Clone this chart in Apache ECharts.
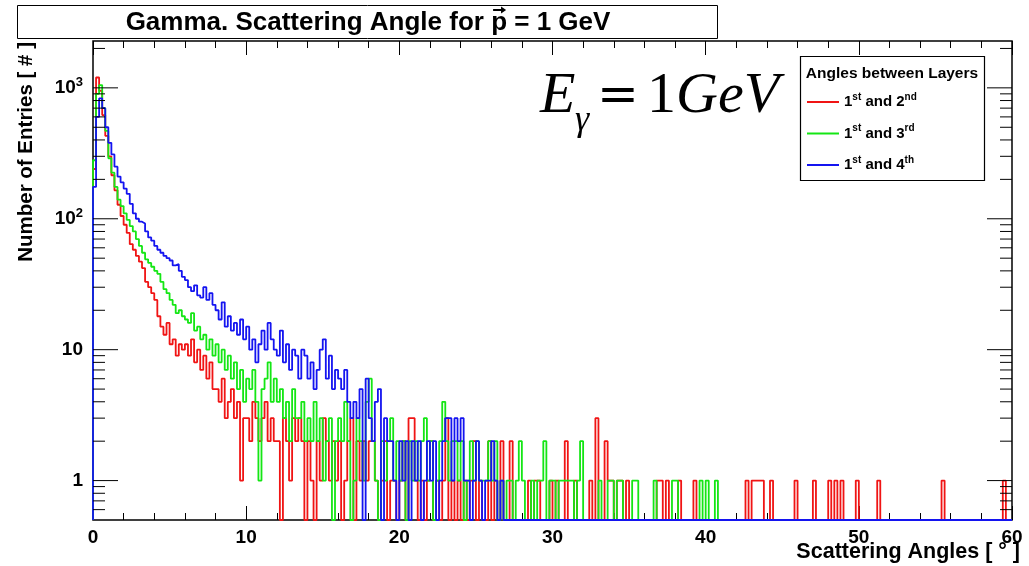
<!DOCTYPE html>
<html>
<head>
<meta charset="utf-8">
<script src="https://cdn.jsdelivr.net/npm/echarts@6/dist/echarts.min.js"></script>
<style>
  html, body { margin: 0; padding: 0; background: #fff; }
  #chart { width: 1029px; height: 566px; }
</style>
</head>
<body>
<div id="chart"></div>
<script>
// Histogram binning: 300 bins of 0.2 degrees covering 0..60 degrees
const binWidth = 0.2;
const angleMin = 0;
const angleMax = 60;

const seriesNames = ['1st and 2nd', '1st and 3rd', '1st and 4th'];
const seriesColors = ['#f01414', '#14e614', '#1414f0'];

// Entries per bin, angle between 1st and 2nd layer
const countsLayer12 = [
  240, 1200, 950, 620, 430, 300, 215, 165, 128, 105,
  90, 78, 64, 58, 52, 47, 42, 33, 30, 27,
  24, 18, 15, 13, 16, 11, 12, 9, 11, 10,
  11, 9, 12, 8, 10, 7, 9, 6, 8, 5,
  5, 4, 6, 3, 4, 5, 3, 4, 1, 3,
  3, 2, 4, 3, 2, 3, 4, 2, 3, 2,
  2, 0, 3, 2, 1, 3, 2, 3, 2, 0,
  2, 1, 0, 2, 1, 3, 2, 1, 2, 1,
  2, 0, 1, 2, 3, 0, 2, 1, 2, 1,
  2, 2, 1, 0, 1, 2, 0, 1, 1, 0,
  1, 2, 0, 3, 3, 1, 0, 1, 0, 1,
  2, 0, 1, 0, 1, 3, 0, 1, 0, 1,
  0, 1, 0, 1, 2, 0, 1, 0, 0, 2,
  0, 1, 0, 2, 0, 0, 2, 0, 0, 0,
  0, 0, 1, 0, 1, 1, 0, 0, 0, 1,
  0, 1, 0, 0, 2, 0, 0, 1, 0, 0,
  0, 0, 1, 0, 3, 0, 0, 2, 1, 1,
  0, 1, 1, 0, 1, 0, 0, 0, 0, 0,
  0, 0, 0, 0, 1, 1, 0, 1, 0, 0,
  0, 1, 0, 0, 0, 0, 1, 0, 0, 0,
  0, 0, 0, 0, 0, 0, 0, 0, 0, 0,
  0, 0, 0, 1, 0, 1, 1, 1, 1, 0,
  0, 1, 0, 0, 0, 0, 0, 0, 0, 1,
  0, 0, 0, 0, 0, 1, 0, 0, 0, 0,
  1, 0, 1, 0, 1, 0, 0, 0, 0, 1,
  0, 0, 0, 0, 0, 0, 1, 0, 0, 0,
  0, 0, 0, 0, 0, 0, 0, 0, 0, 0,
  0, 0, 0, 0, 0, 0, 0, 1, 0, 0,
  0, 0, 0, 0, 0, 0, 0, 0, 0, 0,
  0, 0, 0, 0, 0, 0, 0, 1, 0, 0
];

// Entries per bin, angle between 1st and 3rd layer
const countsLayer13 = [
  280, 900, 1050, 700, 470, 290, 225, 175, 140, 125,
  110, 98, 88, 80, 70, 62, 55, 49, 46, 43,
  40, 38, 33, 29, 27, 24, 22, 19, 20, 18,
  17, 16, 19, 14, 15, 12, 13, 10, 12, 9,
  11, 8, 10, 7, 9, 6, 8, 5, 7, 4,
  6, 5, 7, 4, 1, 5, 6, 8, 4, 6,
  4, 5, 3, 4, 2, 5, 3, 3, 4, 2,
  3, 2, 4, 2, 3, 1, 2, 3, 0, 2,
  3, 2, 4, 2, 0, 1, 3, 2, 1, 4,
  6, 2, 1, 0, 2, 1, 2, 3, 1, 2,
  1, 2, 0, 2, 1, 2, 1, 2, 3, 1,
  2, 0, 1, 2, 4, 2, 1, 2, 2, 1,
  2, 0, 1, 2, 1, 2, 1, 1, 1, 2,
  1, 2, 0, 1, 0, 1, 1, 0, 1, 2,
  1, 0, 0, 1, 0, 1, 1, 2, 0, 1,
  1, 0, 1, 1, 1, 1, 1, 0, 1, 2,
  0, 0, 0, 0, 0, 1, 0, 0, 1, 1,
  0, 1, 1, 0, 0, 0, 1, 1, 0, 0,
  0, 0, 0, 1, 0, 0, 0, 0, 0, 1,
  1, 0, 0, 0, 0, 0, 0, 0, 1, 0,
  1, 0, 0, 1, 0, 0, 0, 0, 0, 0,
  0, 0, 0, 0, 0, 0, 0, 0, 0, 0,
  0, 0, 0, 0, 0, 0, 0, 0, 0, 0,
  0, 0, 0, 0, 0, 0, 0, 0, 0, 0,
  0, 0, 0, 0, 0, 0, 0, 0, 0, 0,
  0, 0, 0, 0, 0, 0, 0, 0, 0, 0,
  0, 0, 0, 0, 0, 0, 0, 0, 0, 0,
  0, 0, 0, 0, 0, 0, 0, 0, 0, 0,
  0, 0, 0, 0, 0, 0, 0, 0, 0, 0,
  0, 0, 0, 0, 0, 0, 0, 0, 0, 0
];

// Entries per bin, angle between 1st and 4th layer
const countsLayer14 = [
  175, 600, 830, 700, 500, 380, 310, 250, 210, 190,
  170, 155, 130, 110, 100, 95, 92, 80, 72, 68,
  62, 58, 55, 52, 50, 48, 44, 45, 40, 36,
  34, 30, 28, 31, 26, 25, 30, 24, 27, 22,
  20, 17, 23, 15, 18, 14, 16, 13, 17, 12,
  15, 10, 12, 8, 11, 14, 10, 16, 12, 10,
  9, 14, 8, 11, 7, 10, 9, 6, 10, 9,
  6, 8, 5, 7, 10, 12, 6, 9, 5, 7,
  6, 5, 7, 4, 3, 4, 3, 5, 0, 6,
  3, 2, 4, 5, 0, 3, 2, 2, 1, 0,
  2, 1, 2, 0, 2, 1, 2, 0, 1, 2,
  1, 2, 0, 1, 2, 3, 3, 1, 3, 2,
  3, 1, 1, 0, 1, 2, 1, 0, 1, 1,
  2, 1, 0, 1, 0, 0, 0, 0, 0, 0,
  0, 0, 0, 0, 0, 0, 0, 0, 0, 0,
  0, 0, 0, 0, 0, 0, 0, 0, 0, 0,
  0, 0, 0, 0, 0, 0, 0, 0, 0, 0,
  0, 0, 0, 0, 0, 0, 0, 0, 0, 0,
  0, 0, 0, 0, 0, 0, 0, 0, 0, 0,
  0, 0, 0, 0, 0, 0, 0, 0, 0, 0,
  0, 0, 0, 0, 0, 0, 0, 0, 0, 0,
  0, 0, 0, 0, 0, 0, 0, 0, 0, 0,
  0, 0, 0, 0, 0, 0, 0, 0, 0, 0,
  0, 0, 0, 0, 0, 0, 0, 0, 0, 0,
  0, 0, 0, 0, 0, 0, 0, 0, 0, 0,
  0, 0, 0, 0, 0, 0, 0, 0, 0, 0,
  0, 0, 0, 0, 0, 0, 0, 0, 0, 0,
  0, 0, 0, 0, 0, 0, 0, 0, 0, 0,
  0, 0, 0, 0, 0, 0, 0, 0, 0, 0,
  0, 0, 0, 0, 0, 0, 0, 0, 0, 0
];

// Vertical range of the log axis and its labelled decades
const yMin = 0.5;
const yMax = 2280;
const yDecades = [1, 10, 100, 1000];
// Small ticks inside each decade (2..9 x 10^k)
const yMinorTicks = [0.6, 0.7, 0.8, 0.9,
  2, 3, 4, 5, 6, 7, 8, 9,
  20, 30, 40, 50, 60, 70, 80, 90,
  200, 300, 400, 500, 600, 700, 800, 900, 2000];

const titleText = 'Gamma. Scattering Angle for p = 1 GeV';
const xTitle = 'Scattering Angles [ \u00b0 ]';
const yTitle = 'Number of Entries [ # ]';
const legendTitle = 'Angles between Layers';
// legend entries with ordinal suffixes set as superscripts
const legendRich = {
  '1st and 2nd': '{n|1}{s|st}{n| and 2}{s|nd}',
  '1st and 3rd': '{n|1}{s|st}{n| and 3}{s|rd}',
  '1st and 4th': '{n|1}{s|st}{n| and 4}{s|th}'
};

const SANS = "'Liberation Sans', Arial, Helvetica, sans-serif";
const SERIF = "'Liberation Serif', 'Times New Roman', serif";

// Step outline of a histogram; empty bins sit on the bottom of the frame
function histogramOutline(counts) {
  const pts = [[angleMin, yMin]];
  counts.forEach((c, i) => {
    pts.push([+(angleMin + i * binWidth).toFixed(4), c > 0 ? c : yMin]);
  });
  const last = counts[counts.length - 1];
  const xEnd = +(angleMin + counts.length * binWidth).toFixed(4);
  pts.push([xEnd, last > 0 ? last : yMin]);
  pts.push([xEnd, yMin]);
  return pts;
}

const allCounts = [countsLayer12, countsLayer13, countsLayer14];

const chart = echarts.init(document.getElementById('chart'), null, { renderer: 'canvas' });

const grid = { left: 93, top: 41, right: 17, bottom: 46 };

// place the vector arrow over the "p" of the title
const measureCtx = document.createElement('canvas').getContext('2d');
measureCtx.font = 'bold 26px ' + SANS;
const titleCx = 368;
const titleW = measureCtx.measureText(titleText).width;
const pIndex = titleText.indexOf(' p ') + 1;
const pLeft = titleCx - titleW / 2 + measureCtx.measureText(titleText.slice(0, pIndex)).width;
const pW = measureCtx.measureText('p').width;
const arrowCx = pLeft + pW / 2;

const labelFont = { color: '#000', fontFamily: SANS, fontWeight: 'bold', fontSize: 19 };

// y ticks on both frame edges: long at decades, short inside decades
const yTickMarks = yDecades.map(v => [angleMin, v, 25]).concat(yMinorTicks.map(v => [angleMin, v, 12]));

const option = {
  animation: false,
  backgroundColor: '#fff',
  grid: Object.assign({ show: true, borderColor: '#000', borderWidth: 1.5, backgroundColor: 'transparent' }, grid),
  xAxis: [{
    type: 'value', min: angleMin, max: angleMax, interval: 10, position: 'bottom',
    axisLine: { show: false },
    axisTick: { show: true, inside: true, length: 14, lineStyle: { color: '#000', width: 1 } },
    minorTick: { show: true, splitNumber: 5, length: 7, lineStyle: { color: '#000', width: 1 } },
    splitLine: { show: false }, minorSplitLine: { show: false },
    axisLabel: Object.assign({ margin: 8 }, labelFont)
  }, {
    type: 'value', min: angleMin, max: angleMax, interval: 10, position: 'top',
    axisLine: { show: false },
    axisTick: { show: true, inside: true, length: 14, lineStyle: { color: '#000', width: 1 } },
    minorTick: { show: true, splitNumber: 5, length: 7, lineStyle: { color: '#000', width: 1 } },
    splitLine: { show: false }, axisLabel: { show: false }
  }],
  yAxis: [{
    type: 'log', logBase: 10, min: yMin, max: yMax, position: 'left',
    axisLine: { show: false },
    axisTick: { show: false },
    splitLine: { show: false },
    axisLabel: {
      margin: 10,
      formatter: function (v) {
        const d = yDecades.find(t => Math.abs(t - v) < 1e-6 * t);
        if (d === undefined) return '';
        if (d < 100) return '{n|' + d + '}';
        return '{n|10}{s|' + Math.round(Math.log10(d)) + '}';
      },
      rich: {
        n: { color: '#000', fontFamily: SANS, fontWeight: 'bold', fontSize: 19, lineHeight: 24 },
        s: { color: '#000', fontFamily: SANS, fontWeight: 'bold', fontSize: 13, lineHeight: 14, verticalAlign: 'top' }
      }
    }
  }],
  legend: {
    data: seriesNames,
    orient: 'vertical',
    left: 807, top: 92,
    padding: 0,
    itemGap: 11,
    itemWidth: 32, itemHeight: 2,
    icon: 'rect',
    selectedMode: false,
    formatter: name => legendRich[name],
    textStyle: {
      color: '#000',
      rich: {
        n: { color: '#000', fontFamily: SANS, fontWeight: 'bold', fontSize: 15, lineHeight: 20 },
        s: { color: '#000', fontFamily: SANS, fontWeight: 'bold', fontSize: 10, lineHeight: 11, verticalAlign: 'top' }
      }
    }
  },
  series: seriesNames.map((name, k) => ({
    name: name,
    type: 'line',
    xAxisIndex: 0, yAxisIndex: 0,
    step: 'end',
    symbol: 'none', showSymbol: false,
    clip: false,
    z: 2 + k,
    color: seriesColors[k],
    lineStyle: { color: seriesColors[k], width: 1.8 },
    data: histogramOutline(allCounts[k])
  })).concat([{
    type: 'custom',
    xAxisIndex: 0, yAxisIndex: 0,
    silent: true, z: 6,
    data: yTickMarks,
    renderItem: function (params, api) {
      const v = api.value(1);
      const len = api.value(2);
      const l = api.coord([angleMin, v]);
      const r = api.coord([angleMax, v]);
      const st = { stroke: '#000', lineWidth: 1 };
      return {
        type: 'group',
        children: [
          { type: 'line', shape: { x1: l[0], y1: l[1], x2: l[0] + len, y2: l[1] }, style: st },
          { type: 'line', shape: { x1: r[0] - len, y1: r[1], x2: r[0], y2: r[1] }, style: st }
        ]
      };
    }
  }]),
  graphic: [
    // title pave
    { type: 'rect', shape: { x: 17.5, y: 5.5, width: 700, height: 33 },
      style: { fill: '#fff', stroke: '#000', lineWidth: 1 }, z: 10 },
    { type: 'text', x: titleCx, y: 22.5, z: 11,
      style: { text: titleText, fill: '#000', font: 'bold 26px ' + SANS, align: 'center', verticalAlign: 'middle' } },
    { type: 'line', z: 11, shape: { x1: arrowCx - 6, y1: 10, x2: arrowCx + 5, y2: 10 },
      style: { stroke: '#000', lineWidth: 2 } },
    { type: 'polygon', z: 11, shape: { points: [[arrowCx + 7, 10], [arrowCx + 2, 6.5], [arrowCx + 2, 13.5]] },
      style: { fill: '#000' } },
    // legend pave
    { type: 'rect', shape: { x: 800.5, y: 56.5, width: 184, height: 124 },
      style: { fill: '#fff', stroke: '#000', lineWidth: 1.2 }, z: 0 },
    { type: 'text', x: 892, y: 74, z: 11,
      style: { text: legendTitle, fill: '#000', font: 'bold 15.5px ' + SANS, align: 'center', verticalAlign: 'middle' } },
    // energy annotation
    { type: 'text', x: 540, y: 97, z: 11,
      style: { text: 'E', fill: '#000', font: 'italic 58px ' + SERIF, align: 'left', verticalAlign: 'middle' } },
    { type: 'text', x: 575, y: 121, z: 11,
      style: { text: '\u03b3', fill: '#000', font: 'italic 36px ' + SERIF, align: 'left', verticalAlign: 'middle' } },
    { type: 'text', x: 597, y: 98, z: 11,
      style: { text: '=', fill: '#000', font: '50px ' + "'DejaVu Serif', serif", align: 'left', verticalAlign: 'middle' } },
    { type: 'text', x: 647, y: 97, z: 11,
      style: { text: '1', fill: '#000', font: '58px ' + SERIF, align: 'left', verticalAlign: 'middle' } },
    { type: 'text', x: 676, y: 97, z: 11,
      style: { text: 'GeV', fill: '#000', font: 'italic 58px ' + SERIF, align: 'left', verticalAlign: 'middle' } },
    // axis titles
    { type: 'text', x: 1020, y: 552, z: 11,
      style: { text: xTitle, fill: '#000', font: 'bold 21.5px ' + SANS, align: 'right', verticalAlign: 'middle' } },
    { type: 'text', x: 26, y: 42, rotation: Math.PI / 2, z: 11,
      style: { text: yTitle, fill: '#000', font: 'bold 20.5px ' + SANS, align: 'right', verticalAlign: 'middle' } }
  ]
};

option.legend.itemGap = 14;

chart.setOption(option);
</script>
</body>
</html>
